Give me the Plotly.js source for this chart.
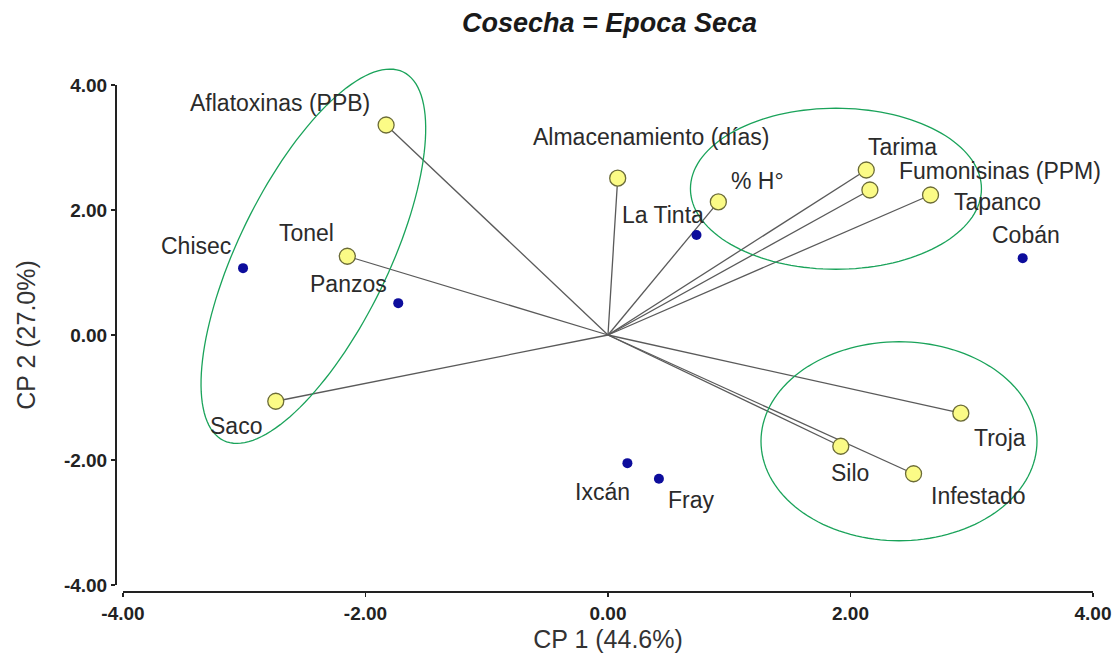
<!DOCTYPE html>
<html>
<head>
<meta charset="utf-8">
<script src="https://cdn.plot.ly/plotly-3.0.1.min.js"></script>
<style>html,body{margin:0;padding:0;background:#fff;}#chart{width:1119px;height:653px;}</style>
</head>
<body>
<div id="chart"></div>
<script>
// ---- data ----
const varNames = ['Aflatoxinas (PPB)', 'Almacenamiento (días)', '% H°', 'Tarima', 'Fumonisinas (PPM)', 'Tapanco', 'Tonel', 'Saco', 'Troja', 'Silo', 'Infestado'];
const varX = [-1.83, 0.08, 0.91, 2.13, 2.16, 2.66, -2.15, -2.74, 2.91, 1.92, 2.52];
const varY = [3.36, 2.51, 2.13, 2.64, 2.32, 2.24, 1.26, -1.06, -1.25, -1.78, -2.22];
const siteNames = ['Chisec', 'Panzos', 'La Tinta', 'Cobán', 'Ixcán', 'Fray'];
const siteX = [-3.01, -1.73, 0.73, 3.42, 0.16, 0.42];
const siteY = [1.07, 0.51, 1.60, 1.23, -2.05, -2.30];
const tickVals = [-4, -2, 0, 2, 4];
const tickText = ['-4.00', '-2.00', '0.00', '2.00', '4.00'];
const titleText = '<b><i>Cosecha = Epoca Seca</i></b>';
const xTitle = 'CP 1 (44.6%)';
const yTitle = 'CP 2 (27.0%)';

// ---- style / placement ----
const W = 1119, H = 653;
const M = {l: 116, r: 26, t: 85, b: 61};
const PW = W - M.l - M.r, PH = H - M.t - M.b;
const xDomStart = 7 / PW;
const yDomStart = 7 / PH;
const xRange = [-4, 4], yRange = [-4, 4];
const pxX = PW * (1 - xDomStart) / (xRange[1] - xRange[0]);
const pxY = PH * (1 - yDomStart) / (yRange[1] - yRange[0]);
// data -> paper fraction (so the outlines are not clipped by the plot area)
const toPaperX = x => xDomStart + (x - xRange[0]) * pxX / PW;
const toPaperY = y => yDomStart + (y - yRange[0]) * pxY / PH;

// label offsets in screen px (dx right, dy down)
const labelOffsets = {
  'Aflatoxinas (PPB)': [-106, -22], 'Almacenamiento (días)': [34, -41], '% H°': [39, -21],
  'Tarima': [36, -23], 'Fumonisinas (PPM)': [130, -19], 'Tapanco': [67, 7],
  'Tonel': [-41, -23], 'Saco': [-40, 25], 'Troja': [39, 25], 'Silo': [9, 27],
  'Infestado': [65, 22], 'Chisec': [-47, -22], 'Panzos': [-50, -19], 'La Tinta': [-34, -20],
  'Cobán': [3, -23], 'Ixcán': [-25, 29], 'Fray': [33, 21]
};

// ellipses: centre in data units, radii in screen px, rotation in degrees (clockwise on screen)
const ellipses = [
  {cx: -2.43, cy: 1.26, rx: 75, ry: 205, rot: 26},
  {cx: 1.88, cy: 2.34, rx: 145.5, ry: 80.5, rot: 0},
  {cx: 2.40, cy: -1.70, rx: 138, ry: 99.5, rot: 0}
];
function ellipsePath(e) {
  const n = 140, phi = e.rot * Math.PI / 180;
  const cxp = toPaperX(e.cx), cyp = toPaperY(e.cy);
  let d = '';
  for (let i = 0; i <= n; i++) {
    const t = 2 * Math.PI * i / n;
    const ux = e.rx * Math.cos(t), uy = e.ry * Math.sin(t);
    const sx = ux * Math.cos(phi) - uy * Math.sin(phi);
    const sy = ux * Math.sin(phi) + uy * Math.cos(phi);
    const x = cxp + sx / PW, y = cyp - sy / PH;
    d += (i === 0 ? 'M' : 'L') + x.toFixed(5) + ',' + y.toFixed(5);
  }
  return d + 'Z';
}

// vectors from origin
const lx = [], ly = [];
varX.forEach((v, i) => { lx.push(0, v, null); ly.push(0, varY[i], null); });

const font = 'Liberation Sans, Arial, Helvetica, sans-serif';
const traces = [
  {x: lx, y: ly, mode: 'lines', type: 'scatter', line: {color: '#5a5a5a', width: 1.3}, hoverinfo: 'skip', showlegend: false},
  {x: siteX, y: siteY, text: siteNames, mode: 'markers', type: 'scatter',
   marker: {color: '#0d0d9c', size: 10, line: {width: 0}}, showlegend: false},
  {x: varX, y: varY, text: varNames, mode: 'markers', type: 'scatter',
   marker: {color: '#fbfb86', size: 16, line: {color: '#6b6b38', width: 1.3}}, showlegend: false}
];

const annotations = [];
function addLabels(names, xs, ys) {
  names.forEach((n, i) => {
    const o = labelOffsets[n] || [0, 0];
    annotations.push({x: xs[i], y: ys[i], xref: 'x', yref: 'y', text: n, showarrow: false,
      xshift: o[0], yshift: -o[1], xanchor: 'center', yanchor: 'middle',
      font: {family: font, size: 23, color: '#2b2b2b'}});
  });
}
addLabels(varNames, varX, varY);
addLabels(siteNames, siteX, siteY);

const layout = {
  width: W, height: H,
  margin: M,
  paper_bgcolor: '#fff', plot_bgcolor: '#fff',
  showlegend: false,
  title: {text: titleText, x: 609.5 / W, xref: 'container', xanchor: 'center',
          y: 1 - 23 / H, yref: 'container', yanchor: 'middle',
          font: {family: font, size: 27, color: '#1a1a1a'}},
  xaxis: {range: xRange, domain: [xDomStart, 1], anchor: 'free', position: 0,
          tickvals: tickVals, ticktext: tickText, ticks: 'outside', ticklen: 4, tickwidth: 1.5, tickcolor: '#222',
          showline: true, linecolor: '#222', linewidth: 2, showgrid: false, zeroline: false,
          tickfont: {family: font, size: 19, color: '#222', weight: 'bold'},
          title: {text: xTitle, font: {family: font, size: 25, color: '#333'}, standoff: 11}},
  yaxis: {range: yRange, domain: [yDomStart, 1], anchor: 'free', position: 0,
          tickvals: tickVals, ticktext: tickText, ticks: 'outside', ticklen: 4, tickwidth: 1.5, tickcolor: '#222',
          showline: true, linecolor: '#222', linewidth: 2, showgrid: false, zeroline: false,
          tickfont: {family: font, size: 19, color: '#222', weight: 'bold'},
          title: {text: yTitle, font: {family: font, size: 25, color: '#333'}, standoff: 20}},
  shapes: ellipses.map(e => ({type: 'path', path: ellipsePath(e), xref: 'paper', yref: 'paper',
          line: {color: '#1aa35a', width: 1.3}, fillcolor: 'rgba(0,0,0,0)', layer: 'above'})),
  annotations: annotations
};

Plotly.newPlot('chart', traces, layout, {displayModeBar: false, staticPlot: true});
</script>
</body>
</html>
